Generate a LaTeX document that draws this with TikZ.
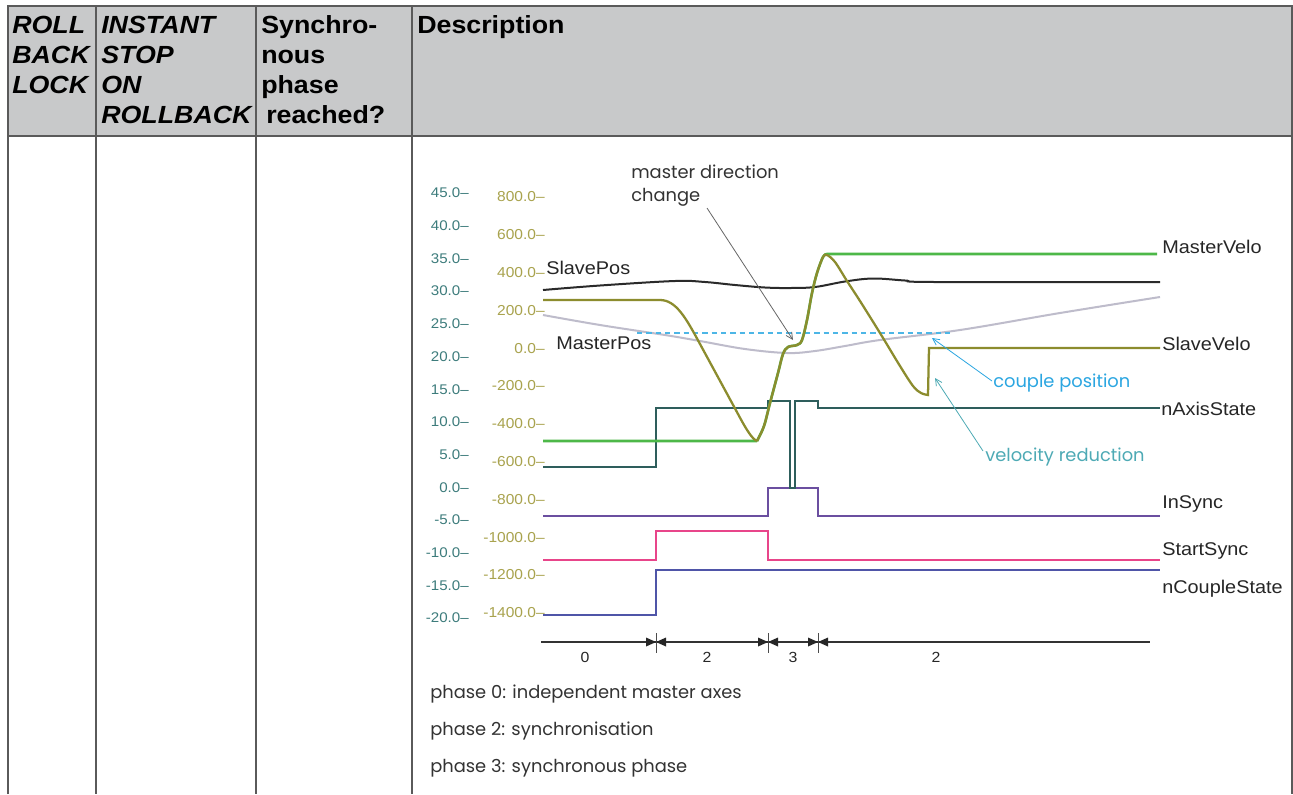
\documentclass[tikz,border=0pt]{standalone}
\usepackage{fontspec}
\setmainfont{Liberation Sans}[FakeStretch=1.08]
\newfontfamily\geo{Poppins}
\usetikzlibrary{arrows.meta}
\definecolor{hdrfill}{HTML}{C8C9CA}
\definecolor{border}{HTML}{5A5A5A}
\definecolor{axL}{HTML}{3D7C7C}
\definecolor{axR}{HTML}{A9A34E}
\definecolor{cAxis}{HTML}{2E5E5C}
\definecolor{cInSync}{HTML}{6B4FA0}
\definecolor{cStart}{HTML}{E8458A}
\definecolor{cCouple}{HTML}{4F55A8}
\definecolor{cMVelo}{HTML}{4DB848}
\definecolor{cSVelo}{HTML}{8C8C2E}
\definecolor{cSPos}{HTML}{2A2A2A}
\definecolor{cMPos}{HTML}{BEBCCB}
\definecolor{cDash}{HTML}{4DB6E6}
\definecolor{cCoupleTxt}{HTML}{2BA6E1}
\definecolor{cVelTxt}{HTML}{4EAAB5}
\begin{document}
\begin{tikzpicture}[x=0.75pt,y=-0.75pt,
  hdr/.style={anchor=base west,inner sep=0pt,font=\fontsize{18.6pt}{22pt}\selectfont\bfseries},
  hdri/.style={hdr,font=\fontsize{18.6pt}{22pt}\selectfont\bfseries\itshape},
  tbl/.style={draw=border,line width=1.2pt},
  axlabL/.style={anchor=east,inner sep=0pt,text=axL,font=\fontsize{10.5pt}{12pt}\selectfont},
  axlabR/.style={anchor=east,inner sep=0pt,text=axR,font=\fontsize{10.8pt}{12pt}\selectfont},
  siglab/.style={anchor=west,inner sep=0pt,font=\fontsize{13.8pt}{15pt}\selectfont,text=black!85},
  geotxt/.style={anchor=west,inner sep=0pt,font=\geo\fontsize{13.4pt}{15pt}\selectfont},
  sig/.style={line width=1.7pt,line join=miter},
  phasetri/.style={fill=black!85},
  plab/.style={inner sep=0pt,font=\fontsize{11pt}{12pt}\selectfont,text=black!85}
]
\useasboundingbox (0,0) rectangle (1293,794);
\fill[white] (0,0) rectangle (1293,794);
% table
\fill[hdrfill] (8,6) rectangle (1292,136);
\draw[tbl] (8,794) -- (8,6) -- (1292,6) -- (1292,794);
\draw[tbl] (8,136) -- (1292,136);
\draw[tbl] (96,6) -- (96,794);
\draw[tbl] (256,6) -- (256,794);
\draw[tbl] (412,6) -- (412,794);
% header text
\node[hdri] (h1a) at (12,33) {ROLL};
\node[hdri] (h1b) at (12,63) {BACK};
\node[hdri] (h1c) at (12,93) {LOCK};
\node[hdri] (h2a) at (101,33) {INSTANT};
\node[hdri] (h2b) at (101,63) {STOP};
\node[hdri] (h2c) at (101,93) {ON};
\node[hdri] (h2d) at (101,123) {ROLLBACK};
\node[hdr] (h3a) at (261,33) {Synchro-};
\node[hdr] (h3b) at (261,63) {nous};
\node[hdr] (h3c) at (261,93) {phase};
\node[hdr] (h3d) at (266,123) {reached?};
\node[hdr] (h4a) at (417,33) {Description};
% axis labels
\foreach \v/\t [count=\i] in {45/45.0,40/40.0,35/35.0,30/30.0,25/25.0,20/20.0,15/15.0,10/10.0,5/5.0,0/0.0,-5/-5.0,-10/-10.0,-15/-15.0,-20/-20.0}
  \node[axlabL] (la\i) at (469,{193+(45-\v)/5*32.7}) {\t–};
\foreach \v/\t [count=\i] in {800/800.0,600/600.0,400/400.0,200/200.0,0/0.0,-200/-200.0,-400/-400.0,-600/-600.0,-800/-800.0,-1000/-1000.0,-1200/-1200.0,-1400/-1400.0}
  \node[axlabR] (ra\i) at (545,{197+(800-\v)/200*37.8}) {\t–};
% MasterPos
\draw[cMPos,line width=1.5pt] plot[smooth,tension=0.6] coordinates {(543,315) (600,325) (665,335) (700,341) (745,349) (787,353) (815,351) (845,346) (880,340) (960,330) (1060,313) (1160,297)};
% dashed couple level
\draw[cDash,line width=1pt,dash pattern=on 4pt off 3pt] (637,333) -- (950,333);
% SlavePos
\draw[cSPos,line width=1.5pt] plot[smooth,tension=0.6] coordinates {(543,290) (600,285.5) (675,281) (705,282) (735,285) (765,287.5) (790,288) (815,287) (845,281.5) (873,278.5) (905,280.5) (935,282) (1160,282)};
% signals
\draw[sig,cCouple] (543,615) -- (656,615) -- (656,570) -- (1160,570);
\draw[sig,cStart] (543,560) -- (656,560) -- (656,531) -- (768,531) -- (768,560) -- (1160,560);
\draw[sig,cInSync] (543,516) -- (768,516) -- (768,488) -- (818,488) -- (818,516) -- (1160,516);
\draw[sig,cAxis] (543,467) -- (656,467) -- (656,408) -- (768,408) -- (768,401) -- (790,401) -- (790,488) -- (795,488) -- (795,401) -- (818,401) -- (818,408) -- (1160,408);
% MasterVelo
\draw[sig,cMVelo,line width=2pt] (543,441) -- (757,441) plot[smooth,tension=0.55] coordinates {(757,441) (764,426) (770,403) (778,373) (783,354) (788,347) (797,345) (802,340) (807,320) (812,293) (817,273) (823,257) (827,254)} -- (1157,254);
% SlaveVelo
\draw[sig,cSVelo,line width=1.7pt] (543,300) -- (660,300)
  .. controls (676,300) and (686,318) .. (700,344)
  -- (738,414)
  .. controls (746,429) and (752,439) .. (757,441)
  plot[smooth,tension=0.55] coordinates {(757,441) (764,426) (770,403) (778,373) (783,354) (788,347) (797,345) (802,340) (807,320) (812,293) (817,273) (823,257) (827,255) (835,262) (847,281) (860,301) (880,333) (900,366) (913,386) (921,393) (928,395)} -- (929,348) -- (1160,348);
% signal labels
\node[siglab] (lMV) at (1162,247) {MasterVelo};
\node[siglab] (lSV) at (1162,344) {SlaveVelo};
\node[siglab] (lAS) at (1161,409) {nAxisState};
\node[siglab] (lIS) at (1162,504) {InSync};
\node[siglab] (lSS) at (1162,551) {StartSync};
\node[siglab] (lCS) at (1162,589) {nCoupleState};
\node[siglab] (lSP) at (546,268) {SlavePos};
\node[siglab] (lMP) at (556,343) {MasterPos};
% annotations
\node[geotxt,text=black!80] (md1) at (631,172) {master direction};
\node[geotxt,text=black!80] (md2) at (631,197) {change};
\node[geotxt,text=cCoupleTxt] (cp) at (993,383) {couple position};
\node[geotxt,text=cVelTxt] (vr) at (985,457) {velocity reduction};
\coordinate (mdS) at (707,208);
\coordinate (mdE) at (793,340);
\coordinate (cpS) at (992,381);
\coordinate (cpE) at (932,338);
\coordinate (vrS) at (983,451);
\coordinate (vrE) at (935,378);
\draw[black!60,line width=0.6pt,-{Straight Barb[length=5pt,width=5pt]}] (mdS) -- (mdE);
\draw[cCoupleTxt,line width=0.6pt,-{Straight Barb[length=5pt,width=5pt]}] (cpS) -- (cpE);
\draw[cVelTxt,line width=0.6pt,-{Straight Barb[length=5pt,width=5pt]}] (vrS) -- (vrE);
% phase bar
\coordinate (pbS) at (541,642);
\coordinate (pbE) at (1150,642);
\draw[black!80,line width=0.8pt] (pbS) -- (pbE);
\foreach \x [count=\i] in {656,768,818} {
  \coordinate (tk\i) at (\x,642);
  \draw[black!70,line width=0.6pt] (\x,633) -- (\x,653);
  \fill[phasetri] (tk\i) -- ++(-10,-4.5) -- ++(0,9) -- cycle;
  \fill[phasetri] (tk\i) -- ++(10,-4.5) -- ++(0,9) -- cycle;
}
\node[plab] (p0) at (585,657) {0};
\node[plab] (p2a) at (707,657) {2};
\node[plab] (p3) at (793,657) {3};
\node[plab] (p2b) at (936,657) {2};
% phase texts
\node[geotxt,text=black!80] (t0) at (430,694) {phase 0: independent master axes};
\node[geotxt,text=black!80] (t2) at (430,731) {phase 2: synchronisation};
\node[geotxt,text=black!80] (t3) at (430,768) {phase 3: synchronous phase};
\end{tikzpicture}
\end{document}
